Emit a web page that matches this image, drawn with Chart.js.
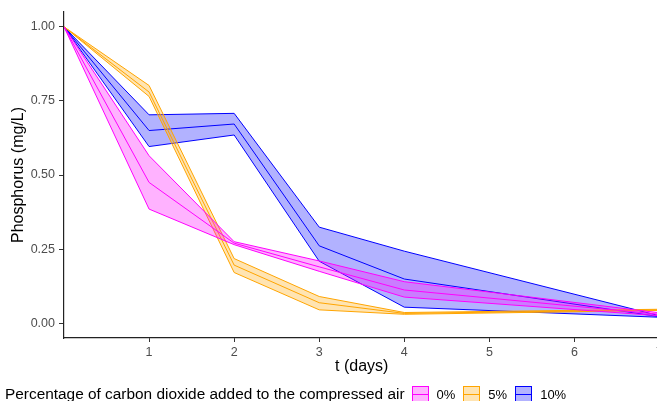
<!DOCTYPE html>
<html>
<head>
<meta charset="utf-8">
<script src="https://cdn.jsdelivr.net/npm/chart.js@4"></script>
<style>
  html, body { margin:0; padding:0; background:#fff; overflow:hidden; }
  #wrap { position:relative; width:666px; height:401px; }
  #legend { position:absolute; left:5px; top:385px; font-family:"Liberation Sans", Arial, sans-serif; color:#000; white-space:nowrap; display:flex; align-items:center; }
  .ttl { font-size:15.4px; margin-right:7px; }
  .key { display:inline-block; position:relative; width:17px; height:17px; margin-right:8px; box-sizing:border-box; }
  .lab { font-size:13px; margin-right:8px; }
</style>
</head>
<body>
<div id="wrap">
  <canvas id="phChart" width="666" height="401"></canvas>
  <div id="legend"></div>
</div>
<script>
// sampling days
const days = [0, 1, 2, 3, 4, 7];

// 0 % CO2
const p0Mean = [1, 0.475, 0.270, 0.190, 0.112, 0.030];
const p0Low  = [1, 0.385, 0.265, 0.175, 0.088, 0.025];
const p0High = [1, 0.565, 0.275, 0.210, 0.140, 0.035];

// 5 % CO2
const p5Mean = [1, 0.780, 0.196, 0.069, 0.033, 0.045];
const p5Low  = [1, 0.765, 0.171, 0.045, 0.030, 0.043];
const p5High = [1, 0.802, 0.218, 0.090, 0.036, 0.047];

// 10 % CO2
const p10Mean = [1, 0.650, 0.672, 0.261, 0.149, 0.022];
const p10Low  = [1, 0.596, 0.635, 0.209, 0.054, 0.020];
const p10High = [1, 0.703, 0.708, 0.324, 0.243, 0.025];

const groups = [
  { label:'0%',  mean:p0Mean,  low:p0Low,  high:p0High,  line:'#FF00FF', fill:'rgba(255,0,255,0.3)' },
  { label:'5%',  mean:p5Mean,  low:p5Low,  high:p5High,  line:'#FFA500', fill:'rgba(255,165,0,0.3)' },
  { label:'10%', mean:p10Mean, low:p10Low, high:p10High, line:'#0000FF', fill:'rgba(0,0,255,0.3)' }
];
const legendTitle = 'Percentage of carbon dioxide added to the compressed air';

const toXY = arr => arr.map((v,i)=>({x:days[i], y:v}));

const datasets = [];
groups.forEach(g=>{
  const base = { borderColor:g.line, borderWidth:1, pointRadius:0, tension:0 };
  datasets.push({ ...base, label:g.label+' low', data:toXY(g.low), fill:false });
  datasets.push({ ...base, label:g.label+' high', data:toXY(g.high), fill:'-1', backgroundColor:g.fill });
  datasets.push({ ...base, label:g.label, data:toXY(g.mean), fill:false });
});

const tickFont = { family:'"Liberation Sans", Arial, sans-serif', size:12.5 };
const titleFont = { family:'"Liberation Sans", Arial, sans-serif', size:16 };

const ctx = document.getElementById('phChart').getContext('2d');
const chart = new Chart(ctx, {
  type:'line',
  data:{ datasets },
  options:{
    responsive:false,
    animation:false,
    devicePixelRatio:1,
    layout:{ padding:{ top:12, right:0, left:0, bottom:21 } },
    plugins:{ legend:{ display:false }, tooltip:{ enabled:false } },
    scales:{
      x:{
        type:'linear', min:0, max:7,
        ticks:{ stepSize:1, color:'#4D4D4D', font:tickFont, padding:3, maxRotation:0 },
        afterBuildTicks: s => { s.ticks = s.ticks.filter(t=>t.value>=1); },
        afterFit: s => { s.height = 42; },
        grid:{ drawOnChartArea:false, drawTicks:true, tickLength:4, color:'#333' },
        border:{ display:true, color:'#222', width:1.2 },
        title:{ display:true, text:'t (days)', color:'#000', font:titleFont, padding:{top:2,bottom:4} }
      },
      y:{
        type:'linear', min:-0.05, max:1.05,
        ticks:{ stepSize:0.25, includeBounds:false, color:'#4D4D4D', font:tickFont, padding:4,
                callback: v => v.toFixed(2) },
        afterFit: s => { s.width = 64; },
        grid:{ drawOnChartArea:false, drawTicks:true, tickLength:5, color:'#333' },
        border:{ display:true, color:'#222', width:1.2 },
        title:{ display:true, text:'Phosphorus (mg/L)', color:'#000', font:titleFont, padding:{top:9,bottom:0} }
      }
    }
  }
});

// legend row under the plot
const leg = document.getElementById('legend');
const t = document.createElement('span');
t.className = 'ttl';
t.textContent = legendTitle;
leg.appendChild(t);
groups.forEach(g=>{
  const k = document.createElement('span');
  k.className = 'key';
  k.style.border = '1px solid '+g.line;
  k.style.background = g.fill;
  const line = document.createElement('span');
  line.style.cssText = 'position:absolute;left:0;right:0;top:7px;height:1px;background:'+g.line;
  k.appendChild(line);
  leg.appendChild(k);
  const l = document.createElement('span');
  l.className = 'lab';
  l.textContent = g.label;
  leg.appendChild(l);
});
</script>
</body>
</html>
